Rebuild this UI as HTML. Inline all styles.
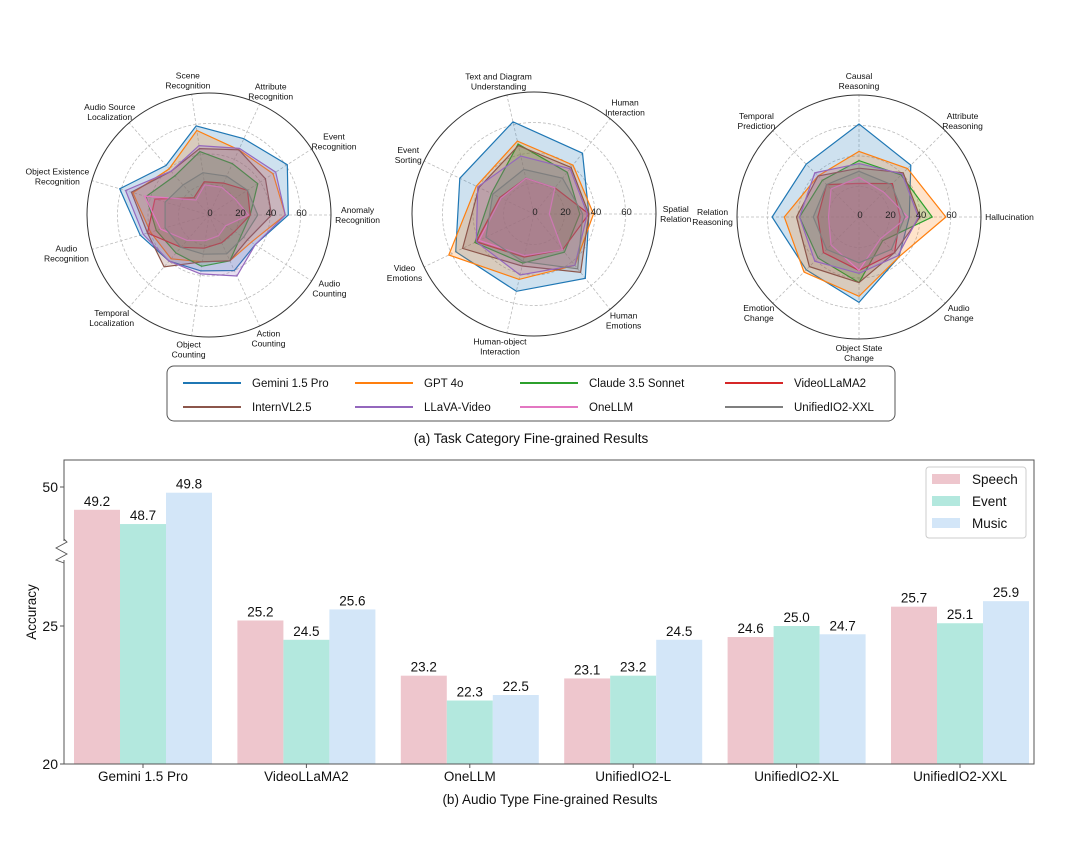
<!DOCTYPE html>
<html><head><meta charset="utf-8"><style>
body{margin:0;background:#fff}
svg{display:block;font-family:"Liberation Sans",sans-serif}
</style></head><body>
<svg id="s" width="1080" height="858" viewBox="0 0 1080 858">
<rect width="1080" height="858" fill="#fff"/>
<g id="radars"></g>
<g>
<rect x="167" y="366" width="728" height="55" rx="7" fill="#fff" stroke="#555" stroke-width="1"/>
<g id="leg" font-size="11.5" fill="#111"></g>
</g>
<text x="531" y="443" font-size="13.5" text-anchor="middle" fill="#111">(a) Task Category Fine-grained Results</text>
<g id="bars"></g>
<text x="550" y="804" font-size="13.5" text-anchor="middle" fill="#111">(b) Audio Type Fine-grained Results</text>
</svg>
<script>
const NS='http://www.w3.org/2000/svg';
function mk(p,t,a){const e=document.createElementNS(NS,t);for(const k in a)e.setAttribute(k,a[k]);p.appendChild(e);return e;}
const models=['Gemini 1.5 Pro','GPT 4o','Claude 3.5 Sonnet','VideoLLaMA2','InternVL2.5','LLaVA-Video','OneLLM','UnifiedIO2-XXL'];
const colors=['#1f77b4','#ff7f0e','#2ca02c','#d62728','#8c564b','#9467bd','#e377c2','#7f7f7f'];
const axes1=[['Anomaly','Recognition'],['Event','Recognition'],['Attribute','Recognition'],['Scene','Recognition'],['Audio Source','Localization'],['Object Existence','Recognition'],['Audio','Recognition'],['Temporal','Localization'],['Object','Counting'],['Action','Counting'],['Audio','Counting']];
const vals1=[
[52,61,55,59,43,61,47,40,37,40,36],
[50,50,47,56,40,52,40,38,31,33,33],
[27,38,37,42,34,43,36,33,34,33,25],
[27,30,23,22,15,37,42,28,22,20,20],
[41,44,47,44,38,53,42,45,31,33,30],
[50,52,48,46,38,57,45,40,39,44,36],
[26,20,20,20,13,44,33,22,17,15,13],
[32,30,28,28,26,30,30,28,26,28,27]];
const axes2=[['Spatial','Relation'],['Human','Interaction'],['Text and Diagram','Understanding'],['Event','Sorting'],['Video','Emotions'],['Human-object','Interaction'],['Human','Emotions']];
const vals2=[
[36,51,62,54,57,52,54],
[39,41,49,42,62,44,43],
[30,35,47,31,43,33,32],
[36,22,24,25,42,29,30],
[36,39,46,40,52,35,49],
[35,38,39,41,42,41,43],
[10,22,24,24,40,28,30],
[32,30,30,30,35,32,46]];
const axes3=[['Hallucination'],['Attribute','Reasoning'],['Causal','Reasoning'],['Temporal','Prediction'],['Relation','Reasoning'],['Emotion','Change'],['Object State','Change'],['Audio','Change']];
const vals3=[
[33,48,61,49,57,49,56,37],
[57,45,43,38,49,51,52,37],
[48,39,37,34,39,38,43,22],
[27,31,22,30,27,33,35,33],
[40,41,32,38,41,46,43,33],
[39,40,35,41,39,41,37,36],
[32,23,26,26,20,26,35,20],
[30,30,30,30,30,30,30,30]];
const rticks=['0','20','40','60'];
const RMAX=80;
function radar(cx,cy,R,axes,vals,name){
  const g=mk(document.getElementById('radars'),'g',{});
  
  
  const n=axes.length;
  const rs=v=>v/RMAX*R;
  [20,40,60].forEach(t=>{mk(g,'circle',{cx,cy,r:rs(t),fill:'none',stroke:'#bbb','stroke-width':0.8,'stroke-dasharray':'3,2'});});
  for(let i=0;i<n;i++){const a=2*Math.PI*i/n;mk(g,'line',{x1:cx,y1:cy,x2:cx+R*Math.cos(a),y2:cy-R*Math.sin(a),stroke:'#bbb','stroke-width':0.8,'stroke-dasharray':'3,2'});}
  vals.forEach((row,m)=>{
    const pts=row.map((v,i)=>{const a=2*Math.PI*i/n;return (cx+rs(v)*Math.cos(a)).toFixed(1)+','+(cy-rs(v)*Math.sin(a)).toFixed(1);}).join(' ');
    const p=mk(g,'polygon',{points:pts,fill:colors[m],'fill-opacity':0.22,stroke:colors[m],'stroke-width':1.2});
    
    
  });
  mk(g,'circle',{cx,cy,r:R,fill:'none',stroke:'#333','stroke-width':1});
  rticks.forEach((t,i)=>{const tx=mk(g,'text',{x:cx+rs(i*20)+1,y:cy+1,'font-size':9.5,'text-anchor':'middle',fill:'#222'});tx.textContent=t;
    
    });
  axes.forEach((lines,i)=>{
    const a=2*Math.PI*i/n,c=Math.cos(a),s=Math.sin(a);
    const t=mk(g,'text',{'font-size':8.5,fill:'#111','text-anchor':'middle'});
    
    
    lines.forEach((l,k)=>{const sp=mk(t,'tspan',{x:0,dy:k?10:0});sp.textContent=l;});
    const bb=t.getBBox();
    const w=bb.width,h=bb.height;
    const bx=cx+(R+4)*c+c*w/2, by=cy-(R+4)*s-s*h/2;
    const ox=bx, oy=by-(bb.y+h/2);
    t.querySelectorAll('tspan').forEach(sp=>sp.setAttribute('x',ox));
    t.setAttribute('y',oy);
  });
}
radar(209,215,122,axes1,vals1,'radar-perception');
radar(534,214,122,axes2,vals2,'radar-understanding');
radar(859,217,122,axes3,vals3,'radar-reasoning');
// legend
const lg=document.getElementById('leg');
const lcols=[183,355,520,725],lrows=[383,407];
models.forEach((m,i)=>{const x=lcols[i%4],y=lrows[Math.floor(i/4)];
  const ln=mk(lg,'line',{x1:x,y1:y,x2:x+58,y2:y,stroke:colors[i],'stroke-width':2});
  
  
  const t=mk(lg,'text',{x:x+69,y:y+4});t.textContent=m;
  
  });
// bars
const cats=['Gemini 1.5 Pro','VideoLLaMA2','OneLLM','UnifiedIO2-L','UnifiedIO2-XL','UnifiedIO2-XXL'];
const speech=[49.2,25.2,23.2,23.1,24.6,25.7];
const event=[48.7,24.5,22.3,23.2,25.0,25.1];
const music=[49.8,25.6,22.5,24.5,24.7,25.9];
const yTickVals=[20,25,50];
const series=[['Speech',speech,'#eec6cd'],['Event',event,'#b3e8de'],['Music',music,'#d3e6f8']];
const bg=document.getElementById('bars');
const L=64,Rr=1034,T=460,B=764;
function yv(v){return v>=40?487+(50-v)*28.5:626-(v-25)*27.6;}
function xc(i){return 143+i*163.4;}
const BW=46;
series.forEach(([nm,arr,col],s)=>{arr.forEach((v,i)=>{
  const x=xc(i)+(s-1)*BW-BW/2,y=yv(v);
  const r=mk(bg,'rect',{x:x,y:y,width:BW,height:B-y,fill:col});
  
  
  const t=mk(bg,'text',{x:x+BW/2,y:y-4,'font-size':13.5,'text-anchor':'middle',fill:'#111'});t.textContent=v.toFixed(1);
  
  
});});
mk(bg,'rect',{x:L,y:T,width:Rr-L,height:B-T,fill:'none',stroke:'#555','stroke-width':1});
// break mark
mk(bg,'rect',{x:L-4,y:541,width:8,height:19,fill:'#fff'});
mk(bg,'polyline',{points:`${L},539 ${L+3},542 ${L-8},548 ${L+3},554 ${L-8},560 ${L},563`,fill:'none',stroke:'#555','stroke-width':0.9});
yTickVals.forEach(v=>{const y=yv(v);mk(bg,'line',{x1:L-4,y1:y,x2:L,y2:y,stroke:'#555'});
  const t=mk(bg,'text',{x:L-6,y:y+5,'font-size':14,'text-anchor':'end',fill:'#111'});t.textContent=v;
  
  });
cats.forEach((c,i)=>{const x=xc(i);mk(bg,'line',{x1:x,y1:B,x2:x,y2:B+4,stroke:'#555'});
  const t=mk(bg,'text',{x:x,y:B+17,'font-size':13.5,'text-anchor':'middle',fill:'#111'});t.textContent=c;
  
  });
const yt=mk(bg,'text',{x:0,y:0,'font-size':13.5,'text-anchor':'middle',fill:'#111',transform:'translate(36,612) rotate(-90)'});yt.textContent='Accuracy';


const lb=mk(bg,'g',{});


mk(lb,'rect',{x:926,y:467,width:100,height:71,rx:3,fill:'#fff',stroke:'#ccc'});
series.forEach(([nm,arr,col],s)=>{const y=479+s*22;
  mk(lb,'rect',{x:932,y:y-5,width:28,height:10,fill:col});
  const t=mk(lb,'text',{x:972,y:y+5,'font-size':13.5,fill:'#111'});t.textContent=nm;
  
  });
</script>
</body></html>
